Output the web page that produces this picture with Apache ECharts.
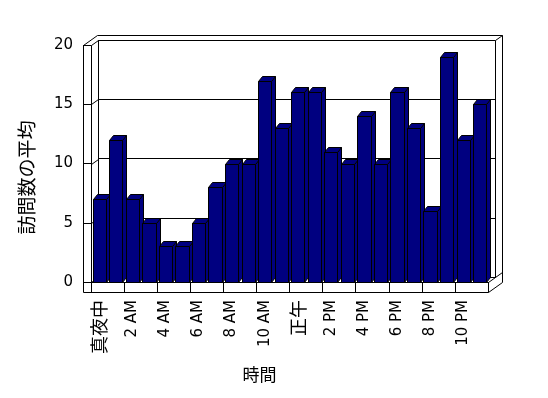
<!DOCTYPE html>
<html>
<head>
<meta charset="utf-8">
<script src="https://cdn.jsdelivr.net/npm/echarts@6/dist/echarts.min.js"></script>
<style>
html, body { margin: 0; padding: 0; background: #fff; }
#main { width: 548px; height: 398px; }
</style>
</head>
<body>
<div id="main"></div>
<script>
// 時間帯ごとの訪問数
var hours = ['真夜中','1 AM','2 AM','3 AM','4 AM','5 AM','6 AM','7 AM','8 AM','9 AM','10 AM','11 AM',
             '正午','1 PM','2 PM','3 PM','4 PM','5 PM','6 PM','7 PM','8 PM','9 PM','10 PM','11 PM'];
var visits = [7,12,7,5,3,3,5,8,10,10,17,13,16,16,11,10,14,10,16,13,6,19,12,15];
var yTicks = [0,5,10,15,20];

var fontFamily = '"Noto Sans CJK JP", "Noto Sans", sans-serif';
var labelFont = '"DejaVu Sans", "Noto Sans CJK JP", sans-serif';
var W = 548, H = 398;
// 前面の枠
var FL = 91, FR = 488, FT = 45, FB = 282;
// 奥行き (1段)
var DX = 7, DY = -5;
var wallW = 8, floorH = 10;

var chart = echarts.init(document.getElementById('main'));

function renderBar(params, api) {
	var i = api.value(0), v = api.value(1);
	var top = api.coord([i, v]);
	var base = api.coord([i, 0]);
	var w = api.size([1, 0])[0] * 0.8;
	var x0 = Math.round(base[0] - w / 2) + 0.5;
	var x1 = Math.round(base[0] + w / 2) + 0.5;
	var yt = Math.round(top[1]) + 0.5;
	var yb = Math.round(base[1]) + 0.5;
	var bx = 4, by = -5;
	var style = { fill: '#000080', stroke: '#000', lineWidth: 1 };
	return {
		type: 'group',
		children: [
			{ type: 'polygon', shape: { points: [[x1, yt], [x1 + bx, yt + by], [x1 + bx, yb + by], [x1, yb]] }, style: style },
			{ type: 'polygon', shape: { points: [[x0, yt], [x1, yt], [x1 + bx, yt + by], [x0 + bx, yt + by]] }, style: style },
			{ type: 'rect', shape: { x: x0, y: yt, width: x1 - x0, height: yb - yt }, style: style }
		]
	};
}

var option = {
	animation: false,
	grid: [
		{ left: FL, right: W - FR, top: FT, bottom: H - FB },
		{ left: FL + DX, right: W - FR - DX, top: FT + DY, bottom: H - FB - DY }
	],
	xAxis: [{
		gridIndex: 0,
		type: 'category',
		data: hours,
		axisLine: { show: true, lineStyle: { color: '#000', width: 1 } },
		axisTick: { show: true, length: floorH, lineStyle: { color: '#000' } },
		axisLabel: {
			interval: 1, rotate: 90, margin: 18, color: '#000', fontSize: 15, fontFamily: labelFont,
			// 漢字のラベルは少し大きく
			formatter: function (v) { return /[^\x00-\x7F]/.test(v) ? '{j|' + v + '}' : v; },
			rich: { j: { fontSize: 18, fontFamily: fontFamily, color: '#000' } }
		},
		name: '時間',
		nameLocation: 'middle',
		nameGap: 84,
		nameTextStyle: { color: '#000', fontSize: 17, fontFamily: fontFamily, padding: [0, 60, 0, 0] }
	}, {
		gridIndex: 1,
		type: 'category',
		data: hours,
		show: false
	}],
	yAxis: [{
		gridIndex: 0,
		type: 'value',
		min: 0, max: 20, interval: 5,
		offset: wallW,
		axisLine: { show: false },
		axisTick: { show: true, inside: true, length: wallW, lineStyle: { color: '#000' } },
		splitLine: { show: false },
		axisLabel: { margin: 10, color: '#000', fontSize: 15, fontFamily: labelFont },
		name: '訪問数の平均',
		nameLocation: 'middle',
		nameGap: 47,
		nameTextStyle: { color: '#000', fontSize: 19, fontFamily: fontFamily, padding: [0, 28, 0, 0] }
	}, {
		gridIndex: 1,
		type: 'value',
		min: 0, max: 20, interval: 5,
		axisLine: { show: false },
		axisTick: { show: false },
		axisLabel: { show: false },
		splitLine: { show: true, lineStyle: { color: '#000', width: 1 } }
	}],
	series: [{
		type: 'custom',
		xAxisIndex: 0,
		yAxisIndex: 0,
		data: visits.map(function (v, i) { return [i, v]; }),
		renderItem: renderBar,
		z: 5
	}]
};
chart.setOption(option);

// 枠 (壁と床) を描く
function p(x) { return Math.round(x) + 0.5; }
var lines = [];
var OL = FL - wallW, OB = FB + floorH;
// 左の壁と床の前面
lines.push([[OL, FT], [FL, FT], [FL, FB], [FR, FB], [FR, OB], [OL, OB], [OL, FT]]);
// 上面と右側面
lines.push([[OL, FT], [OL + 2 * DX, FT + 2 * DY], [FR + 2 * DX, FT + 2 * DY], [FR + 2 * DX, OB + 2 * DY], [FR, OB]]);
lines.push([[FR, FB], [FR + 2 * DX, FB + 2 * DY]]);
// 奥の壁
lines.push([[FL + DX, FT + DY], [FR + DX, FT + DY], [FR + DX, FB + DY], [FL + DX, FB + DY], [FL + DX, FT + DY]]);
lines.push([[FR + DX, FT + DY], [FR + 2 * DX, FT + 2 * DY]]);
// 目盛りの斜線
yTicks.forEach(function (t) {
	var a = chart.convertToPixel({ yAxisIndex: 0 }, t);
	var b = chart.convertToPixel({ yAxisIndex: 1 }, t);
	lines.push([[FL, a], [FL + DX, b]]);
});

chart.setOption({
	graphic: lines.map(function (pts) {
		return {
			type: 'polyline',
			z: 1,
			shape: { points: pts.map(function (q) { return [p(q[0]), p(q[1])]; }) },
			style: { stroke: '#000', lineWidth: 1, fill: null }
		};
	})
});
</script>
</body>
</html>
